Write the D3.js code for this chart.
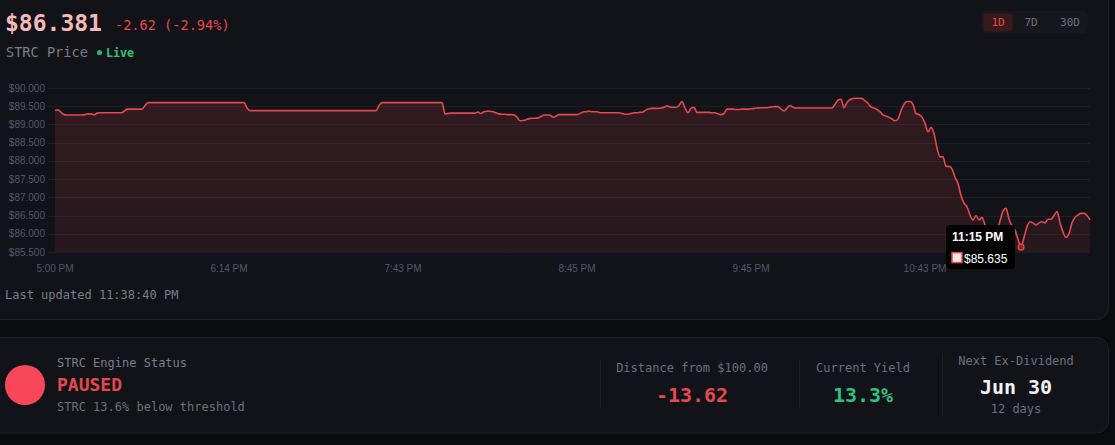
<!DOCTYPE html>
<html>
<head>
<meta charset="utf-8">
<script src="https://cdn.jsdelivr.net/npm/d3@7"></script>
<style>
  html, body { margin: 0; background: #0b0c10; overflow: hidden; }
  svg { display: block; }
</style>
</head>
<body>
<svg id="view"></svg>
<script>
// STRC price card (1D view) + engine status strip.
const WIDTH = 1115;
const HEIGHT = 445;
const MONO = '"DejaVu Sans Mono", "Liberation Mono", monospace';
const SANS = '"Liberation Sans", Arial, sans-serif';

// One point per minute-ish sample (index-based x axis).
const prices = [
  89.38, 89.40, 89.33, 89.27, 89.26, 89.26, 89.26, 89.26, 89.26, 89.26,
  89.27, 89.29, 89.29, 89.26, 89.31, 89.32, 89.32, 89.32, 89.32, 89.32,
  89.32, 89.32, 89.32, 89.36, 89.42, 89.42, 89.42, 89.42, 89.42, 89.42,
  89.52, 89.60, 89.60, 89.60, 89.60, 89.60, 89.60, 89.60, 89.60, 89.60,
  89.60, 89.60, 89.60, 89.60, 89.60, 89.60, 89.60, 89.60, 89.60, 89.60,
  89.60, 89.60, 89.60, 89.60, 89.60, 89.60, 89.60, 89.60, 89.60, 89.60,
  89.60, 89.60, 89.60, 89.60, 89.45, 89.38, 89.38, 89.38, 89.38, 89.38,
  89.38, 89.38, 89.38, 89.38, 89.38, 89.38, 89.38, 89.38, 89.38, 89.38,
  89.38, 89.38, 89.38, 89.38, 89.38, 89.38, 89.38, 89.38, 89.38, 89.38,
  89.38, 89.38, 89.38, 89.38, 89.38, 89.38, 89.38, 89.38, 89.38, 89.38,
  89.38, 89.38, 89.38, 89.38, 89.38, 89.38, 89.38, 89.38, 89.52, 89.60,
  89.60, 89.60, 89.60, 89.60, 89.60, 89.60, 89.60, 89.60, 89.60, 89.60,
  89.60, 89.60, 89.60, 89.60, 89.60, 89.60, 89.60, 89.60, 89.60, 89.60,
  89.29, 89.30, 89.31, 89.31, 89.31, 89.31, 89.31, 89.31, 89.31, 89.31,
  89.31, 89.34, 89.30, 89.35, 89.36, 89.36, 89.35, 89.32, 89.29, 89.28,
  89.28, 89.27, 89.27, 89.26, 89.20, 89.10, 89.11, 89.13, 89.16, 89.17,
  89.17, 89.18, 89.22, 89.26, 89.26, 89.25, 89.20, 89.23, 89.27, 89.27,
  89.27, 89.27, 89.27, 89.27, 89.27, 89.30, 89.34, 89.35, 89.36, 89.35,
  89.35, 89.34, 89.32, 89.32, 89.32, 89.32, 89.32, 89.32, 89.32, 89.30,
  89.28, 89.28, 89.30, 89.32, 89.32, 89.33, 89.34, 89.40, 89.43, 89.44,
  89.44, 89.44, 89.45, 89.47, 89.51, 89.48, 89.47, 89.47, 89.52, 89.63,
  89.45, 89.32, 89.44, 89.47, 89.33, 89.33, 89.33, 89.33, 89.33, 89.32,
  89.32, 89.29, 89.27, 89.30, 89.42, 89.42, 89.42, 89.41, 89.41, 89.42,
  89.42, 89.42, 89.43, 89.44, 89.45, 89.46, 89.46, 89.46, 89.47, 89.48,
  89.49, 89.49, 89.42, 89.37, 89.45, 89.52, 89.47, 89.45, 89.45, 89.45,
  89.45, 89.45, 89.45, 89.45, 89.45, 89.45, 89.45, 89.45, 89.45, 89.45,
  89.55, 89.67, 89.69, 89.46, 89.60, 89.68, 89.71, 89.72, 89.72, 89.71,
  89.65, 89.58, 89.48, 89.45, 89.41, 89.35, 89.26, 89.23, 89.20, 89.15,
  89.10, 89.15, 89.38, 89.55, 89.63, 89.63, 89.55, 89.30, 89.27, 89.20,
  89.03, 88.80, 88.92, 88.75, 88.35, 88.11, 88.11, 87.85, 87.85, 87.78,
  87.55, 87.38, 87.05, 86.84, 86.74, 86.52, 86.38, 86.50, 86.38, 86.45,
  86.25, 86.12, 86.00, 85.95, 86.05, 86.35, 86.62, 86.70, 86.40, 86.22,
  86.10, 85.85, 85.635, 85.90, 86.19, 86.33, 86.30, 86.24, 86.30, 86.33,
  86.30, 86.40, 86.40, 86.50, 86.61, 86.30, 86.05, 85.90, 86.00, 86.30,
  86.45, 86.52, 86.56, 86.56, 86.50, 86.381
];

// Category ticks the chart shows (auto-skipped labels).
const tickIndex = [0, 58, 116, 174, 232, 290];
const tickLabels = ['5:00 PM', '6:14 PM', '7:43 PM', '8:45 PM', '9:45 PM', '10:43 PM'];

// Hovered sample.
const hoverIndex = 322;
const hoverLabel = '11:15 PM';

const ranges = ['1D', '7D', '30D'];
const activeRange = '1D';

const stats = [
  { label: 'Distance from $100.00', value: '-13.62', color: '#e5484d', cx: 692 },
  { label: 'Current Yield', value: '13.3%', color: '#2ec27e', cx: 863 },
];

const RED = '#e5484d';

const svg = d3.select('#view').attr('width', WIDTH).attr('height', HEIGHT);

// Cards (they run off the left/top edge, so only right corners show).
svg.append('rect')
  .attr('x', -20).attr('y', -20).attr('width', 1128.5).attr('height', 339.5)
  .attr('rx', 12).attr('fill', '#121318').attr('stroke', '#1e2026');
svg.append('rect')
  .attr('x', -20).attr('y', 337.5).attr('width', 1128.5).attr('height', 95.5)
  .attr('rx', 12).attr('fill', '#121318').attr('stroke', '#1e2026');

// ---- header
const head = svg.append('g');
head.append('text')
  .attr('x', 5).attr('y', 31)
  .attr('font-family', MONO).attr('font-size', 23).attr('font-weight', 700)
  .attr('fill', '#f4b9b9')
  .text('$86.381');
head.append('text')
  .attr('x', 115).attr('y', 30)
  .attr('font-family', MONO).attr('font-size', 13.6)
  .attr('fill', RED)
  .text('-2.62 (-2.94%)');
head.append('text')
  .attr('x', 6).attr('y', 57)
  .attr('font-family', MONO).attr('font-size', 13.6)
  .attr('fill', '#7b7e86')
  .text('STRC Price');
head.append('circle').attr('cx', 99.5).attr('cy', 52.5).attr('r', 2.6).attr('fill', '#22b573');
head.append('text')
  .attr('x', 106).attr('y', 56.5)
  .attr('font-family', MONO).attr('font-size', 11.7).attr('font-weight', 700)
  .attr('fill', '#2ec27e')
  .text('Live');

// range switch
const sw = svg.append('g');
sw.append('rect').attr('x', 981).attr('y', 11).attr('width', 107).attr('height', 22)
  .attr('rx', 5).attr('fill', '#17181d');
const btnX = { '1D': 998, '7D': 1031, '30D': 1070 };
sw.append('rect').attr('x', 983.5).attr('y', 13.5).attr('width', 29).attr('height', 18)
  .attr('rx', 3).attr('fill', '#3a191d');
sw.selectAll('text.btn')
  .data(ranges)
  .join('text')
  .attr('class', 'btn')
  .attr('x', (d) => btnX[d]).attr('y', 26)
  .attr('text-anchor', 'middle')
  .attr('font-family', MONO).attr('font-size', 11)
  .attr('fill', (d) => (d === activeRange ? RED : '#6d7079'))
  .text((d) => d);

// ---- price chart
const plot = { left: 55, right: 1090, top: 88, bottom: 252 };
const x = d3.scaleLinear().domain([0, prices.length - 1]).range([plot.left, plot.right]);
const y = d3.scaleLinear().domain([85.5, 90]).range([plot.bottom, plot.top]);

const chart = svg.append('g');

// grid + y ticks
const yTicks = d3.range(85.5, 90.001, 0.5);
chart.append('g')
  .selectAll('line')
  .data(yTicks)
  .join('line')
  .attr('x1', 48).attr('x2', plot.right)
  .attr('y1', (d) => Math.round(y(d)) + 0.5).attr('y2', (d) => Math.round(y(d)) + 0.5)
  .attr('stroke', '#1d1f25');

chart.append('g')
  .selectAll('text')
  .data(yTicks)
  .join('text')
  .attr('x', 45).attr('y', (d) => y(d) + 3.5)
  .attr('text-anchor', 'end')
  .attr('font-family', SANS).attr('font-size', 10)
  .attr('fill', '#555962')
  .text((d) => '$' + d.toFixed(3));

chart.append('g')
  .selectAll('text')
  .data(tickIndex)
  .join('text')
  .attr('x', (d) => x(d)).attr('y', 272)
  .attr('text-anchor', 'middle')
  .attr('font-family', SANS).attr('font-size', 10)
  .attr('fill', '#555962')
  .text((d, i) => tickLabels[i]);

// fill
const defs = svg.append('defs');
const grad = defs.append('linearGradient').attr('id', 'fillGrad')
  .attr('x1', 0).attr('x2', 0).attr('y1', 0).attr('y2', 1);
grad.append('stop').attr('offset', '0%').attr('stop-color', RED).attr('stop-opacity', 0.15);
grad.append('stop').attr('offset', '100%').attr('stop-color', RED).attr('stop-opacity', 0.1);

const area = d3.area()
  .x((d, i) => x(i))
  .y0(plot.bottom)
  .y1((d) => y(d))
  .curve(d3.curveMonotoneX);
chart.append('path').datum(prices).attr('d', area).attr('fill', 'url(#fillGrad)');

const line = d3.line()
  .x((d, i) => x(i))
  .y((d) => y(d))
  .curve(d3.curveMonotoneX);
chart.append('path').datum(prices).attr('d', line)
  .attr('fill', 'none').attr('stroke', RED).attr('stroke-width', 1.6)
  .attr('stroke-linejoin', 'round');

// hovered point + tooltip
const hx = x(hoverIndex);
const hy = y(prices[hoverIndex]);
chart.append('circle').attr('cx', hx).attr('cy', hy).attr('r', 3)
  .attr('fill', '#7a2a2e').attr('stroke', RED).attr('stroke-width', 1.2);

const tip = chart.append('g').attr('transform', `translate(${hx - 75},${hy - 22})`);
tip.append('rect').attr('width', 69).attr('height', 44).attr('rx', 4)
  .attr('fill', 'rgba(0,0,0,0.88)');
tip.append('text').attr('x', 6).attr('y', 16)
  .attr('font-family', SANS).attr('font-size', 12).attr('font-weight', 700)
  .attr('fill', '#fff').text(hoverLabel);
tip.append('rect').attr('x', 6).attr('y', 27.5).attr('width', 10).attr('height', 10)
  .attr('fill', '#f1e6e6').attr('stroke', RED).attr('stroke-width', 1.5);
tip.append('text').attr('x', 18).attr('y', 38)
  .attr('font-family', SANS).attr('font-size', 12)
  .attr('fill', '#fff').text('$' + prices[hoverIndex].toFixed(3));

svg.append('text')
  .attr('x', 5).attr('y', 299)
  .attr('font-family', MONO).attr('font-size', 12)
  .attr('fill', '#7b7e86')
  .text('Last updated 11:38:40 PM');

// ---- engine status strip
const st = svg.append('g');
st.append('circle').attr('cx', 25).attr('cy', 385).attr('r', 20).attr('fill', '#f9475a');
st.append('text').attr('x', 57).attr('y', 367)
  .attr('font-family', MONO).attr('font-size', 12).attr('fill', '#7b7e86')
  .text('STRC Engine Status');
st.append('text').attr('x', 57).attr('y', 391)
  .attr('font-family', MONO).attr('font-size', 18).attr('font-weight', 700).attr('fill', RED)
  .text('PAUSED');
st.append('text').attr('x', 57).attr('y', 411)
  .attr('font-family', MONO).attr('font-size', 12).attr('fill', '#6d7079')
  .text('STRC 13.6% below threshold');

// dividers
[[600.5, 360, 408], [799.5, 360, 408], [942.5, 353, 416]].forEach(([dx, y1, y2]) => {
  st.append('line').attr('x1', dx).attr('x2', dx).attr('y1', y1).attr('y2', y2)
    .attr('stroke', '#1f2127');
});

const statG = st.selectAll('g.stat').data(stats).join('g').attr('class', 'stat');
statG.append('text').attr('x', (d) => d.cx).attr('y', 372)
  .attr('text-anchor', 'middle')
  .attr('font-family', MONO).attr('font-size', 12).attr('fill', '#6d7079')
  .text((d) => d.label);
statG.append('text').attr('x', (d) => d.cx).attr('y', 402)
  .attr('text-anchor', 'middle')
  .attr('font-family', MONO).attr('font-size', 20).attr('font-weight', 700)
  .attr('fill', (d) => d.color)
  .text((d) => d.value);

st.append('text').attr('x', 1016).attr('y', 365)
  .attr('text-anchor', 'middle')
  .attr('font-family', MONO).attr('font-size', 12).attr('fill', '#6d7079')
  .text('Next Ex-Dividend');
st.append('text').attr('x', 1016).attr('y', 394)
  .attr('text-anchor', 'middle')
  .attr('font-family', MONO).attr('font-size', 20).attr('font-weight', 700).attr('fill', '#f2f2f2')
  .text('Jun 30');
st.append('text').attr('x', 1016).attr('y', 413)
  .attr('text-anchor', 'middle')
  .attr('font-family', MONO).attr('font-size', 12).attr('fill', '#6d7079')
  .text('12 days');
</script>
</body>
</html>
